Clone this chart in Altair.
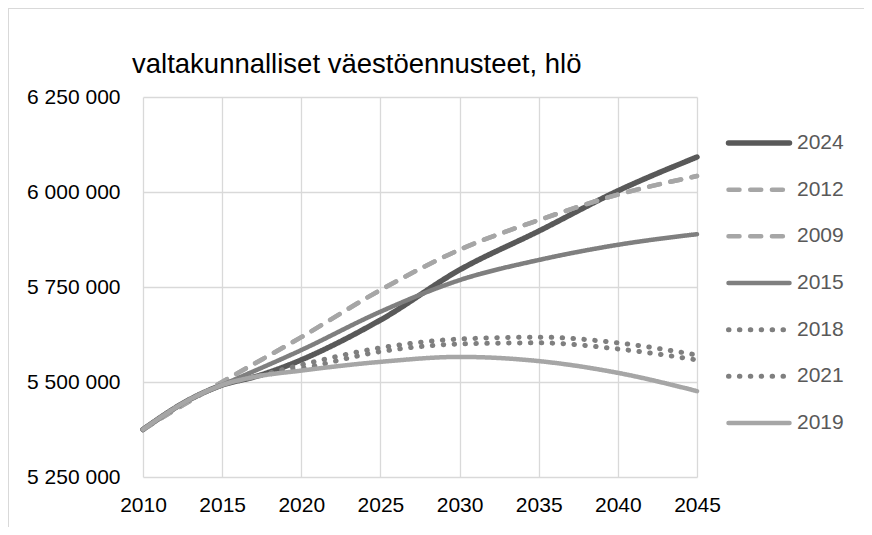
import altair as alt
import pandas as pd

# ---- data ----
series_order = ["2024", "2012", "2009", "2015", "2018", "2021", "2019"]
series_colors = ["#595959", "#A6A6A6", "#A6A6A6", "#7F7F7F", "#7F7F7F", "#7F7F7F", "#A6A6A6"]
series_dash = [[1, 0], [11, 10.7], [11, 10.7], [1, 0], [0.5, 10.4], [0.5, 10.4], [1, 0]]

years_2024 = [2010, 2013, 2015, 2017, 2025, 2030, 2035, 2040, 2045]
values_2024 = [5375000, 5455000, 5492000, 5513000, 5663000, 5795000, 5897000, 6003000, 6092000]

years_2012 = [2010, 2012, 2015, 2020, 2025, 2030, 2035, 2040, 2045]
values_2012 = [5375000, 5426000, 5500000, 5618000, 5742000, 5848000, 5926000, 5993000, 6042000]

years_2009 = [2010, 2012, 2015, 2020, 2025, 2030, 2035, 2040, 2045]
values_2009 = [5375000, 5426000, 5500000, 5618000, 5742000, 5848000, 5926000, 5993000, 6042000]

years_2015 = [2010, 2013, 2015, 2020, 2025, 2030, 2035, 2040, 2045]
values_2015 = [5375000, 5455000, 5492000, 5584000, 5685000, 5768000, 5821000, 5861000, 5889000]

years_2018 = [2010, 2013, 2015, 2017, 2020, 2025, 2030, 2035, 2040, 2045]
values_2018 = [5375000, 5455000, 5492000, 5513000, 5545000, 5590000, 5613000, 5618000, 5603000, 5571000]

years_2021 = [2010, 2013, 2015, 2017, 2020, 2025, 2030, 2035, 2040, 2045]
values_2021 = [5375000, 5455000, 5492000, 5513000, 5535000, 5580000, 5600000, 5603000, 5587000, 5558000]

years_2019 = [2010, 2013, 2015, 2017, 2020, 2025, 2030, 2035, 2040, 2045]
values_2019 = [5375000, 5455000, 5492000, 5513000, 5530000, 5553000, 5566000, 5555000, 5524000, 5476000]

x_ticks = [2010, 2015, 2020, 2025, 2030, 2035, 2040, 2045]
y_ticks = [5250000, 5500000, 5750000, 6000000, 6250000]

title_text = "valtakunnalliset väestöennusteet, hlö"

# ---- build table ----
all_series = {
    "2024": (years_2024, values_2024),
    "2012": (years_2012, values_2012),
    "2009": (years_2009, values_2009),
    "2015": (years_2015, values_2015),
    "2018": (years_2018, values_2018),
    "2021": (years_2021, values_2021),
    "2019": (years_2019, values_2019),
}
rows = []
for s in series_order:
    ys, vs = all_series[s]
    for y, v in zip(ys, vs):
        rows.append({"series": s, "year": y, "value": v})
df = pd.DataFrame(rows)
leg_df = pd.DataFrame({"series": series_order})

FONT = "Liberation Sans"
width_expr = ("datum.series === '2024' ? 5.5 : "
              "(datum.series === '2018' || datum.series === '2021') ? 5 : 4.5")

color_enc = alt.Color("series:N", scale=alt.Scale(domain=series_order, range=series_colors), legend=None)
dash_enc = alt.StrokeDash("series:N", scale=alt.Scale(domain=series_order, range=series_dash), legend=None)
sw_enc = alt.StrokeWidth("sw:Q", scale=None)

lines = alt.Chart(df).transform_calculate(sw=width_expr).mark_line(
    strokeCap="round", strokeJoin="round", interpolate="monotone"
).encode(
    x=alt.X("year:Q", scale=alt.Scale(domain=[2010, 2045], nice=False, zero=False),
            axis=alt.Axis(values=x_ticks, format="d", title=None, labelPadding=17, labelFlush=False)),
    y=alt.Y("value:Q", scale=alt.Scale(domain=[5250000, 6250000], nice=False, zero=False),
            axis=alt.Axis(values=y_ticks, title=None, labelPadding=23,
                          labelExpr="replace(replace(format(datum.value, ','), ',', ' '), ',', ' ')")),
    color=color_enc,
    strokeDash=dash_enc,
    strokeWidth=sw_enc,
)

leg_y = alt.Y("series:N", sort=series_order, axis=None,
              scale=alt.Scale(type="point", domain=series_order, range=[46, 326], padding=0))

leg_rules = alt.Chart(leg_df).transform_calculate(sw=width_expr).mark_rule(strokeCap="round").encode(
    y=leg_y,
    x=alt.value(585.5),
    x2=alt.value(646.5),
    color=color_enc,
    strokeDash=dash_enc,
    strokeWidth=sw_enc,
)

leg_text = alt.Chart(leg_df).mark_text(
    align="left", baseline="middle", font=FONT, fontSize=21, color="#595959"
).encode(
    y=leg_y,
    x=alt.value(654),
    text="series:N",
)

title_mark = alt.Chart(alt.Data(values=[{"t": title_text}])).mark_text(
    align="left", baseline="alphabetic", font=FONT, fontSize=27.5, color="#000000"
).encode(
    text="t:N",
    x=alt.value(-11),
    y=alt.value(-24.5),
)

border_top = alt.Chart(alt.Data(values=[{}])).mark_rule(color="#D9D9D9", strokeWidth=1).encode(
    x=alt.value(-134.5), x2=alt.value(737), y=alt.value(-88.5)
)
border_left = alt.Chart(alt.Data(values=[{}])).mark_rule(color="#D9D9D9", strokeWidth=1).encode(
    x=alt.value(-134.5), y=alt.value(-89), y2=alt.value(446)
)

chart = alt.layer(border_top, border_left, lines, leg_rules, leg_text, title_mark).resolve_scale(
    y="independent"
).properties(
    width=554,
    height=380,
    autosize=alt.AutoSizeParams(type="none"),
    padding={"left": 135, "top": 89, "right": 167, "bottom": 50},
).configure_view(
    stroke=None
).configure_axis(
    grid=True,
    gridColor="#D9D9D9",
    gridWidth=1.3,
    domain=False,
    ticks=False,
    labelFont=FONT,
    labelFontSize=21,
    labelColor="#000000",
)

chart.save("out.html", embed_options={"renderer": "svg", "actions": False})
